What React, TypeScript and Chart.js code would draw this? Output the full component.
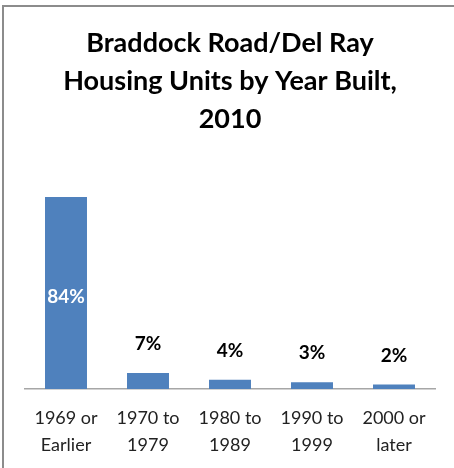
import React, { useEffect, useRef } from "react";
import { Chart, registerables } from "chart.js";

Chart.register(...registerables);

const categories: string[][] = [
  ["1969 or", "Earlier"],
  ["1970 to", "1979"],
  ["1980 to", "1989"],
  ["1990 to", "1999"],
  ["2000 or", "later"],
];
const values: number[] = [84, 7, 4, 3, 2];
const valueLabels: string[] = ["84%", "7%", "4%", "3%", "2%"];
const insideLabel: boolean[] = [true, false, false, false, false];
const titleLines: string[] = [
  "Braddock Road/Del Ray",
  "Housing Units by Year Built,",
  "2010",
];

const FONT = "Lato, 'Open Sans', 'DejaVu Sans', sans-serif";

const framePlugin = {
  id: "frame",
  beforeDraw(chart: any) {
    const ctx = chart.ctx;
    ctx.save();
    ctx.fillStyle = "#ffffff";
    ctx.fillRect(0, 0, chart.width, chart.height);
    ctx.strokeStyle = "#8c8c8c";
    ctx.lineWidth = 2;
    ctx.beginPath();
    ctx.moveTo(3, chart.height);
    ctx.lineTo(3, 6);
    ctx.lineTo(chart.width, 6);
    ctx.stroke();
    ctx.restore();
  },
};

const labelPlugin = {
  id: "valueLabels",
  afterDatasetsDraw(chart: any) {
    const ctx = chart.ctx;
    const meta = chart.getDatasetMeta(0);
    ctx.save();
    ctx.font = `bold 19px ${FONT}`;
    ctx.textAlign = "center";
    ctx.textBaseline = "middle";
    meta.data.forEach((bar: any, i: number) => {
      if (insideLabel[i]) {
        ctx.fillStyle = "#ffffff";
        ctx.fillText(valueLabels[i], bar.x, (bar.y + bar.base) / 2 + 4);
      } else {
        ctx.fillStyle = "#000000";
        ctx.fillText(valueLabels[i], bar.x, bar.y - 29);
      }
    });
    ctx.restore();
  },
};

export default function App() {
  const ref = useRef<HTMLCanvasElement | null>(null);
  useEffect(() => {
    if (!ref.current) return;
    const chart = new Chart(ref.current, {
      type: "bar",
      data: {
        labels: categories,
        datasets: [
          {
            data: values,
            backgroundColor: "#4f81bd",
            borderWidth: 0,
            barPercentage: 0.512,
            categoryPercentage: 1,
          },
        ],
      },
      options: {
        animation: false,
        responsive: false,
        maintainAspectRatio: false,
        layout: { padding: { left: 25, right: 19, top: 0, bottom: 0 } },
        plugins: {
          legend: { display: false },
          tooltip: { enabled: false },
          title: {
            display: true,
            text: titleLines,
            color: "#000000",
            font: { family: FONT, size: 27, weight: "bold", lineHeight: 38 / 27 },
            padding: { top: 24, bottom: 59 },
          },
        },
        scales: {
          x: {
            grid: { display: false, drawTicks: false },
            border: { display: true, color: "#a6a6a6", width: 1.5 },
            ticks: {
              color: "#222222",
              font: { family: FONT, size: 18, lineHeight: 1.5 },
              padding: 16,
              maxRotation: 0,
              autoSkip: false,
            },
            afterFit(scale: any) {
              scale.height = 79;
            },
          },
          y: {
            display: false,
            min: 0,
            max: 84,
          },
        },
      },
      plugins: [framePlugin, labelPlugin],
    });
    return () => chart.destroy();
  }, []);
  return (
    <div style={{ position: "absolute", left: 0, top: 0, width: 454, height: 468 }}>
      <canvas ref={ref} width={454} height={468} style={{ display: "block" }} />
    </div>
  );
}
